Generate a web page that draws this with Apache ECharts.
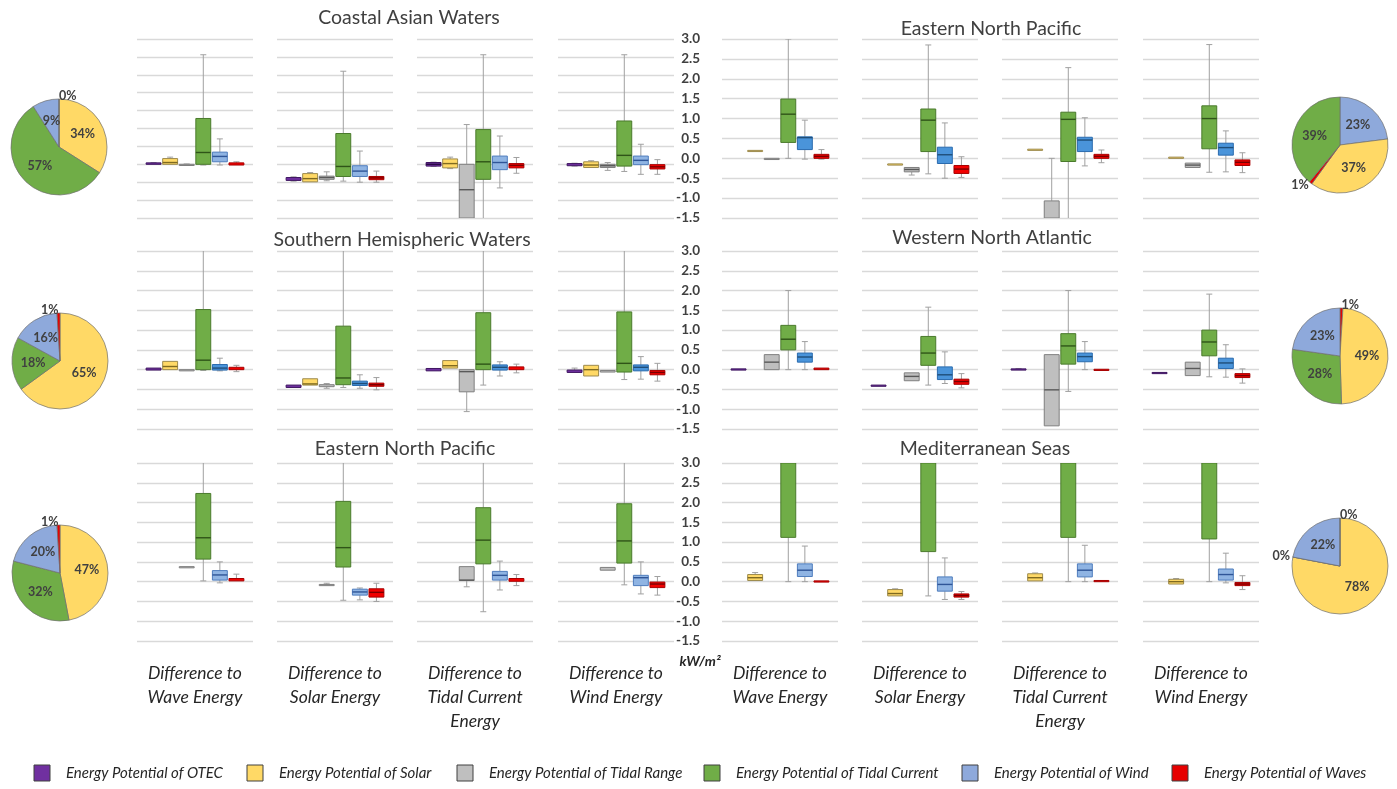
<!DOCTYPE html>
<html>
<head>
<meta charset="utf-8">
<title>Energy potential differences by region</title>
<script src="https://cdn.jsdelivr.net/npm/echarts@6/dist/echarts.min.js"></script>
<style>
  html, body { margin: 0; padding: 0; background: #ffffff; }
  #chart { width: 1397px; height: 789px; }
</style>
</head>
<body>
<div id="chart"></div>
<script>
// ---- Energy types (box order inside every panel, left to right) ----
const typeNames = [
  'Energy Potential of OTEC',
  'Energy Potential of Solar',
  'Energy Potential of Tidal Range',
  'Energy Potential of Tidal Current',
  'Energy Potential of Wind',
  'Energy Potential of Waves'
];
const comparisonNames = [
  'Difference to\nWave Energy',
  'Difference to\nSolar Energy',
  'Difference to\nTidal Current\nEnergy',
  'Difference to\nWind Energy'
];
const regionTitles = [
  'Coastal Asian Waters', 'Eastern North Pacific',
  'Southern Hemispheric Waters', 'Western North Atlantic',
  'Eastern North Pacific', 'Mediterranean Seas'
];
const unitLabel = 'kW/m²';
const yAxisMin = -1.5;
const yAxisStep = 0.5;
// upper bound of each row: [left block, right block]
const rowAxisMax = [[3.5, 3.0], [3.0, 3.0], [3.0, 3.0]];

// ---- Box statistics: [min, q1, median, q3, max] per energy type, null = no data ----
const asiaVsWave = [
  [0, 0, 0.02, 0.04, 0.05],
  [0, 0, 0.05, 0.16, 0.2],
  [-0.01, -0.01, 0, 0, 0.01],
  [-0.02, 0, 0.33, 1.28, 3.06],
  [-0.02, 0.07, 0.22, 0.34, 0.71],
  [-0.02, -0.02, 0.01, 0.04, 0.07]
];
const asiaVsSolar = [
  [-0.47, -0.45, -0.41, -0.37, -0.35],
  [-0.49, -0.49, -0.4, -0.26, -0.23],
  [-0.46, -0.42, -0.37, -0.33, -0.21],
  [-0.47, -0.34, -0.06, 0.86, 2.6],
  [-0.5, -0.34, -0.19, -0.04, 0.37],
  [-0.5, -0.43, -0.38, -0.34, -0.19]
];
const asiaVsTidal = [
  [-0.06, -0.05, 0, 0.05, 0.06],
  [-0.12, -0.1, 0.02, 0.15, 0.2],
  [-2.5, -1.9, -0.71, 0, 1.11],
  [-1.8, -0.42, 0.07, 0.97, 3.06],
  [-0.66, -0.15, 0.05, 0.23, 0.79],
  [-0.25, -0.1, -0.03, 0.02, 0.19]
];
const asiaVsWind = [
  [-0.05, -0.04, -0.01, 0.02, 0.03],
  [-0.09, -0.09, -0.02, 0.07, 0.1],
  [-0.17, -0.09, -0.04, 0, 0.05],
  [-0.2, -0.05, 0.25, 1.21, 3.06],
  [-0.28, -0.01, 0.11, 0.23, 0.56],
  [-0.28, -0.13, -0.07, -0.01, 0.13]
];
const pacificUpperVsWave = [
  null,
  [0.2, 0.2, 0.2, 0.2, 0.2],
  [0, 0, 0, 0, 0],
  [0, 0.4, 1.11, 1.49, 3.0],
  [-0.02, 0.22, 0.52, 0.54, 0.96],
  [-0.02, 0, 0.05, 0.1, 0.22]
];
const pacificUpperVsSolar = [
  null,
  [-0.14, -0.14, -0.14, -0.14, -0.14],
  [-0.42, -0.34, -0.28, -0.23, -0.23],
  [-0.39, 0.17, 0.96, 1.24, 2.85],
  [-0.5, -0.13, 0.09, 0.28, 0.89],
  [-0.48, -0.38, -0.27, -0.18, 0.04]
];
const pacificUpperVsTidal = [
  null,
  [0.23, 0.23, 0.23, 0.23, 0.23],
  [-2.0, -1.8, -1.6, -1.07, 0],
  [-1.8, -0.08, 0.98, 1.16, 2.28],
  [-0.19, 0.17, 0.46, 0.53, 1.02],
  [-0.11, 0, 0.05, 0.1, 0.21]
];
const pacificUpperVsWind = [
  null,
  [0.03, 0.03, 0.03, 0.03, 0.03],
  [-0.23, -0.23, -0.17, -0.12, -0.12],
  [-0.35, 0.24, 1.0, 1.32, 2.86],
  [-0.34, 0.08, 0.27, 0.38, 0.69],
  [-0.36, -0.18, -0.1, -0.04, 0.14]
];
const southVsWave = [
  [-0.01, -0.01, 0.02, 0.04, 0.04],
  [0, 0, 0.08, 0.21, 0.21],
  [0, 0, 0, 0, 0],
  [-0.02, 0, 0.24, 1.52, 3.3],
  [-0.03, -0.01, 0.04, 0.13, 0.29],
  [-0.05, 0, 0.03, 0.06, 0.11]
];
const southVsSolar = [
  [-0.45, -0.45, -0.42, -0.39, -0.39],
  [-0.39, -0.39, -0.36, -0.23, -0.23],
  [-0.47, -0.43, -0.4, -0.38, -0.35],
  [-0.45, -0.38, -0.21, 1.1, 3.4],
  [-0.47, -0.4, -0.35, -0.29, -0.13],
  [-0.51, -0.42, -0.38, -0.34, -0.2]
];
const southVsTidal = [
  [-0.03, -0.03, 0, 0.03, 0.03],
  [0.04, 0.04, 0.1, 0.23, 0.23],
  [-1.06, -0.56, -0.05, 0, 0],
  [-0.39, 0, 0.14, 1.44, 3.4],
  [-0.16, -0.01, 0.06, 0.12, 0.2],
  [-0.08, 0, 0.03, 0.07, 0.14]
];
const southVsWind = [
  [-0.07, -0.07, -0.04, -0.01, 0.04],
  [-0.16, -0.16, 0, 0.11, 0.11],
  [-0.06, -0.06, -0.04, -0.02, -0.02],
  [-0.25, -0.06, 0.16, 1.46, 3.4],
  [-0.24, -0.03, 0.06, 0.12, 0.33],
  [-0.29, -0.13, -0.07, -0.02, 0.16]
];
const atlanticVsWave = [
  [0.02, 0.02, 0.02, 0.02, 0.02],
  null,
  [0, 0, 0.19, 0.38, 0.38],
  [0, 0.5, 0.77, 1.12, 2.0],
  [0, 0.19, 0.32, 0.42, 0.71],
  [0, 0, 0.02, 0.04, 0.04]
];
const atlanticVsSolar = [
  [-0.39, -0.39, -0.39, -0.39, -0.39],
  null,
  [-0.28, -0.28, -0.17, -0.08, -0.08],
  [-0.39, 0.11, 0.42, 0.84, 1.58],
  [-0.35, -0.25, -0.13, 0.07, 0.45],
  [-0.46, -0.37, -0.3, -0.24, -0.1]
];
const atlanticVsTidal = [
  [0.02, 0.02, 0.02, 0.02, 0.03],
  null,
  [-1.42, -1.42, -0.51, 0.38, 0.38],
  [-0.55, 0.14, 0.6, 0.91, 2.0],
  [0, 0.2, 0.33, 0.42, 0.71],
  [-0.01, -0.01, 0.01, 0.01, 0.01]
];
const atlanticVsWind = [
  [-0.07, -0.07, -0.07, -0.07, -0.07],
  null,
  [-0.15, -0.15, 0.03, 0.19, 0.19],
  [-0.18, 0.35, 0.7, 1.0, 1.91],
  [-0.19, 0.03, 0.17, 0.29, 0.63],
  [-0.34, -0.2, -0.15, -0.1, 0.02]
];
const pacificLowerVsWave = [
  null, null,
  [0.38, 0.38, 0.38, 0.38, 0.38],
  [0.02, 0.57, 1.11, 2.23, 3.4],
  [-0.03, 0.04, 0.17, 0.28, 0.5],
  [0.02, 0.02, 0.05, 0.08, 0.19]
];
const pacificLowerVsSolar = [
  null, null,
  [-0.09, -0.09, -0.08, -0.07, -0.04],
  [-0.47, 0.37, 0.86, 2.03, 3.4],
  [-0.46, -0.34, -0.26, -0.19, -0.16],
  [-0.5, -0.39, -0.27, -0.18, -0.04]
];
const pacificLowerVsTidal = [
  null, null,
  [-0.13, 0.03, 0.04, 0.38, 0.38],
  [-0.76, 0.45, 1.05, 1.87, 3.4],
  [-0.21, 0.04, 0.16, 0.26, 0.52],
  [-0.1, 0.01, 0.04, 0.08, 0.18]
];
const pacificLowerVsWind = [
  null, null,
  [0.29, 0.29, 0.32, 0.36, 0.36],
  [-0.08, 0.47, 1.03, 1.97, 3.4],
  [-0.31, -0.1, 0.1, 0.16, 0.5],
  [-0.34, -0.15, -0.06, -0.01, 0.13]
];
const medVsWave = [
  null,
  [0.03, 0.03, 0.1, 0.18, 0.23],
  null,
  [0, 1.12, 3.2, 3.6, 4.0],
  [0, 0.13, 0.29, 0.45, 0.9],
  [0.01, 0.01, 0.01, 0.02, 0.02]
];
const medVsSolar = [
  null,
  [-0.36, -0.36, -0.3, -0.2, -0.18],
  null,
  [-0.36, 0.76, 3.2, 3.6, 4.0],
  [-0.45, -0.24, -0.07, 0.12, 0.6],
  [-0.45, -0.39, -0.35, -0.31, -0.25]
];
const medVsTidal = [
  null,
  [0.02, 0.02, 0.1, 0.2, 0.22],
  null,
  [0, 1.12, 3.2, 3.6, 4.0],
  [0, 0.12, 0.29, 0.45, 0.92],
  [0.01, 0.01, 0.02, 0.03, 0.03]
];
const medVsWind = [
  null,
  [-0.06, -0.06, 0.0, 0.06, 0.08],
  null,
  [0, 1.08, 3.2, 3.6, 4.0],
  [-0.03, 0.04, 0.18, 0.32, 0.72],
  [-0.2, -0.1, -0.06, -0.02, 0.15]
];

// ---- Share of each energy type per region: [type index, percent], clockwise from 12 o'clock ----
const asiaShares = [[1, 34], [3, 57], [4, 9], [5, 0]];
const pacificUpperShares = [[4, 23], [1, 37], [5, 1], [3, 39]];
const southShares = [[1, 65], [3, 18], [4, 16], [5, 1]];
const atlanticShares = [[5, 1], [1, 49], [3, 28], [4, 23]];
const pacificLowerShares = [[1, 47], [3, 32], [4, 20], [5, 1]];
const medShares = [[1, 78], [3, 0], [4, 22], [5, 0]];

// ---- Arrangement ----
const panelRows = [
  [asiaVsWave, asiaVsSolar, asiaVsTidal, asiaVsWind,
   pacificUpperVsWave, pacificUpperVsSolar, pacificUpperVsTidal, pacificUpperVsWind],
  [southVsWave, southVsSolar, southVsTidal, southVsWind,
   atlanticVsWave, atlanticVsSolar, atlanticVsTidal, atlanticVsWind],
  [pacificLowerVsWave, pacificLowerVsSolar, pacificLowerVsTidal, pacificLowerVsWind,
   medVsWave, medVsSolar, medVsTidal, medVsWind]
];
const pieRows = [
  [asiaShares, pacificUpperShares],
  [southShares, atlanticShares],
  [pacificLowerShares, medShares]
];

// ---- Layout and styling ----
const panelLeft = [137, 277, 417, 558, 722, 862, 1002, 1143];
const panelWidth = 116;
const rowTop = [39, 251, 463];
const rowHeight = [179, 178, 178];
const titlePos = [[409, 18], [991, 29], [402, 240], [992, 238], [405, 449], [985, 449]];
const pieCenter = [[[59, 147], [1340, 145]], [[60, 361], [1340, 356]], [[60, 573], [1340, 566]]];
const pieRadius = 48;

const boxFill = ['#7030A0', '#FFD966', '#BFBFBF', '#70AD47', '#4A94DA', '#F20000'];
const boxEdge = ['#3E1560', '#9C8A4E', '#7F7F7F', '#4A7A2C', '#2A6BAE', '#A80000'];
const boxMedian = ['#2A0A45', '#7F6A20', '#595959', '#2F5418', '#1F4E79', '#7A0000'];
const windLight = { fill: '#8FB4E3', edge: '#4F7DBD', median: '#2F5597' };
// rows / blocks drawn with the paler wind colour
const paleWind = [[true, false], [false, false], [true, true]];
const pieFill = ['#7030A0', '#FFD966', '#BFBFBF', '#70AD47', '#8EA9DB', '#E60000'];
const whiskerColor = '#A0A0A0';
const textColor = '#404040';
const fontFamily = 'Lato, "Open Sans", "Liberation Sans", sans-serif';

const chart = echarts.init(document.getElementById('chart'), null, { renderer: 'canvas' });

const grids = [], xAxes = [], yAxes = [], series = [];

function makeRenderer(lo, hi, pale) {
  return function (params, api) {
    const slot = api.value(0);
    const type = api.value(6);
    const mn = api.value(1), q1 = api.value(2), md = api.value(3), q3 = api.value(4), mx = api.value(5);
    const clamp = v => Math.max(lo, Math.min(hi, v));
    const inRange = v => v >= lo && v <= hi;
    const cx = api.coord([slot, 0])[0];
    const py = v => api.coord([slot, clamp(v)])[1];
    const half = api.size([0.9, 0])[0] / 2;
    const cap = 3;
    let fill = boxFill[type], edge = boxEdge[type], med = boxMedian[type];
    if (type === 4 && pale) { fill = windLight.fill; edge = windLight.edge; med = windLight.median; }
    const kids = [];
    const wStyle = { stroke: whiskerColor, lineWidth: 1 };
    if (mx > q3 && q3 < hi) {
      kids.push({ type: 'line', shape: { x1: cx, y1: py(mx), x2: cx, y2: py(q3) }, style: wStyle });
      if (inRange(mx)) kids.push({ type: 'line', shape: { x1: cx - cap, y1: py(mx), x2: cx + cap, y2: py(mx) }, style: wStyle });
    }
    if (mn < q1 && q1 > lo) {
      kids.push({ type: 'line', shape: { x1: cx, y1: py(q1), x2: cx, y2: py(mn) }, style: wStyle });
      if (inRange(mn)) kids.push({ type: 'line', shape: { x1: cx - cap, y1: py(mn), x2: cx + cap, y2: py(mn) }, style: wStyle });
    }
    const yTop = py(q3), yBot = py(q1);
    const h = Math.max(yBot - yTop, 1.2);
    kids.push({
      type: 'rect',
      shape: { x: cx - half, y: yTop, width: half * 2, height: h },
      style: { fill: fill, stroke: edge, lineWidth: 1 }
    });
    if (inRange(md) && yBot - yTop > 3) {
      kids.push({ type: 'line', shape: { x1: cx - half, y1: py(md), x2: cx + half, y2: py(md) },
        style: { stroke: med, lineWidth: 1.4 } });
    }
    return { type: 'group', children: kids };
  };
}

panelRows.forEach((row, r) => {
  row.forEach((boxes, c) => {
    const idx = grids.length;
    const block = c < 4 ? 0 : 1;
    const hi = rowAxisMax[r][block];
    grids.push({ left: panelLeft[c], top: rowTop[r], width: panelWidth, height: rowHeight[r], containLabel: false });
    xAxes.push({ gridIndex: idx, type: 'value', min: 0, max: 7, show: false });
    yAxes.push({
      gridIndex: idx, type: 'value', min: yAxisMin, max: hi, interval: yAxisStep,
      axisLine: { show: false }, axisTick: { show: false },
      splitLine: { show: true, lineStyle: { color: '#D9D9D9', width: 1.4 } },
      axisLabel: {
        show: c === 4, margin: 22, color: textColor, fontWeight: 'bold', fontSize: 13.5,
        fontFamily: fontFamily, formatter: v => v.toFixed(1)
      }
    });
    const data = [];
    boxes.forEach((b, t) => { if (b) data.push([t + 1].concat(b).concat([t])); });
    series.push({
      type: 'custom', xAxisIndex: idx, yAxisIndex: idx, clip: true,
      renderItem: makeRenderer(yAxisMin, hi, paleWind[r][block]),
      encode: { x: 0, y: [1, 2, 3, 4, 5] },
      data: data, silent: true, animation: false
    });
  });
});

pieRows.forEach((pair, r) => {
  pair.forEach((shares, k) => {
    series.push({
      type: 'pie', center: pieCenter[r][k], radius: pieRadius, startAngle: 90, clockwise: true,
      animation: false, silent: true, avoidLabelOverlap: false,
      itemStyle: { borderColor: '#6E6E6E', borderWidth: 0.7 },
      label: {
        position: 'inside', formatter: p => p.value + '%', color: textColor,
        fontWeight: 'bold', fontSize: 12.5, fontFamily: fontFamily
      },
      labelLine: { show: false },
      data: shares.map(([t, v]) => {
        const small = v < 3;
        return {
          name: typeNames[t], value: v, itemStyle: { color: pieFill[t] },
          label: small ? { position: 'outside', distanceToLabelLine: 0 } : undefined,
          labelLine: small ? { show: false, length: 3, length2: 0 } : undefined
        };
      })
    });
  });
});

// ---- Texts: region titles, column captions, unit, legend ----
const graphics = [];
regionTitles.forEach((t, i) => {
  graphics.push({ type: 'text', x: titlePos[i][0], y: titlePos[i][1], silent: true,
    style: { text: t, fill: textColor, font: '19.5px ' + fontFamily, textAlign: 'center', textVerticalAlign: 'middle' } });
});
panelLeft.forEach((l, c) => {
  graphics.push({ type: 'text', x: l + panelWidth / 2, y: 661, silent: true,
    style: { text: comparisonNames[c % 4], fill: '#262626', font: 'italic 17.5px ' + fontFamily,
      textAlign: 'center', textVerticalAlign: 'top', lineHeight: 24 } });
});
graphics.push({ type: 'text', x: 700, y: 661, silent: true,
  style: { text: unitLabel, fill: '#262626', font: 'italic bold 14px ' + fontFamily, textAlign: 'center', textVerticalAlign: 'middle' } });

const legendX = [42, 255, 465, 712, 970, 1180];
typeNames.forEach((name, t) => {
  graphics.push({ type: 'rect', silent: true,
    shape: { x: legendX[t] - 8, y: 765, width: 16, height: 16 },
    style: { fill: pieFill[t], stroke: '#404040', lineWidth: 1 } });
  graphics.push({ type: 'text', x: legendX[t] + 24, y: 773, silent: true,
    style: { text: name, fill: '#262626', font: 'italic 15px ' + fontFamily, textAlign: 'left', textVerticalAlign: 'middle' } });
});

chart.setOption({
  backgroundColor: '#ffffff',
  animation: false,
  grid: grids,
  xAxis: xAxes,
  yAxis: yAxes,
  series: series,
  graphic: graphics
});
</script>
</body>
</html>
